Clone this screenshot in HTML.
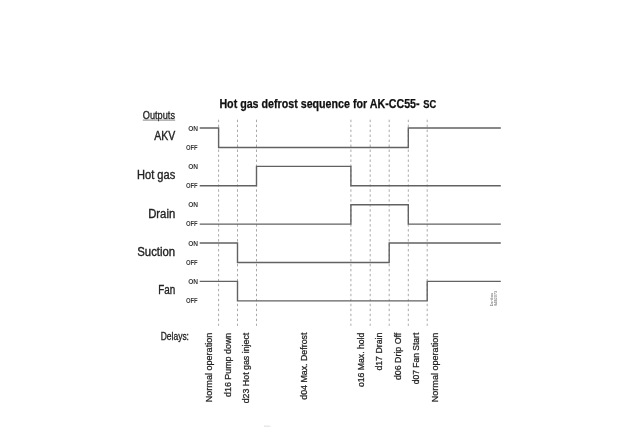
<!DOCTYPE html>
<html><head><meta charset="utf-8"><style>
html,body{margin:0;padding:0;background:#fff;width:640px;height:427px;overflow:hidden}
svg{display:block;will-change:transform;font-family:"Liberation Sans",sans-serif}
</style></head><body>
<svg width="640" height="427" viewBox="0 0 640 427">
<rect width="640" height="427" fill="#fff"/>
<line x1="218.6" y1="119.7" x2="218.6" y2="325.8" stroke="#a8a8a8" stroke-width="1" stroke-dasharray="2.4 2.575"/>
<line x1="237.5" y1="119.7" x2="237.5" y2="325.8" stroke="#a8a8a8" stroke-width="1" stroke-dasharray="2.4 2.575"/>
<line x1="256.5" y1="119.7" x2="256.5" y2="325.8" stroke="#a8a8a8" stroke-width="1" stroke-dasharray="2.4 2.575"/>
<line x1="350.9" y1="119.7" x2="350.9" y2="325.8" stroke="#a8a8a8" stroke-width="1" stroke-dasharray="2.4 2.575"/>
<line x1="370.2" y1="119.7" x2="370.2" y2="325.8" stroke="#a8a8a8" stroke-width="1" stroke-dasharray="2.4 2.575"/>
<line x1="389.2" y1="119.7" x2="389.2" y2="325.8" stroke="#a8a8a8" stroke-width="1" stroke-dasharray="2.4 2.575"/>
<line x1="408.3" y1="119.7" x2="408.3" y2="325.8" stroke="#a8a8a8" stroke-width="1" stroke-dasharray="2.4 2.575"/>
<line x1="427.2" y1="119.7" x2="427.2" y2="325.8" stroke="#a8a8a8" stroke-width="1" stroke-dasharray="2.4 2.575"/>
<path d="M199.7 128.00 H218.6 V147.45 H408.3 V128.00 H500.8" fill="none" stroke="#626262" stroke-width="1.4" stroke-linejoin="miter"/>
<text x="188.2" y="130.60" font-size="6.7" font-weight="bold" textLength="9.9" lengthAdjust="spacingAndGlyphs" fill="#3a3a3a">ON</text>
<text x="185.9" y="149.65" font-size="6.7" font-weight="bold" textLength="11.8" lengthAdjust="spacingAndGlyphs" fill="#3a3a3a">OFF</text>
<text x="154.20" y="140.0" font-size="12" textLength="21.0" lengthAdjust="spacingAndGlyphs" fill="#222" stroke="#222" stroke-width="0.35">AKV</text>
<path d="M199.7 185.80 H256.5 V166.35 H350.9 V185.80 H500.8" fill="none" stroke="#626262" stroke-width="1.4" stroke-linejoin="miter"/>
<text x="188.2" y="168.95" font-size="6.7" font-weight="bold" textLength="9.9" lengthAdjust="spacingAndGlyphs" fill="#3a3a3a">ON</text>
<text x="185.9" y="188.00" font-size="6.7" font-weight="bold" textLength="11.8" lengthAdjust="spacingAndGlyphs" fill="#3a3a3a">OFF</text>
<text x="137.00" y="179.0" font-size="12" textLength="38.2" lengthAdjust="spacingAndGlyphs" fill="#222" stroke="#222" stroke-width="0.35">Hot gas</text>
<path d="M199.7 224.15 H350.9 V204.70 H408.3 V224.15 H500.8" fill="none" stroke="#626262" stroke-width="1.4" stroke-linejoin="miter"/>
<text x="188.2" y="207.30" font-size="6.7" font-weight="bold" textLength="9.9" lengthAdjust="spacingAndGlyphs" fill="#3a3a3a">ON</text>
<text x="185.9" y="226.35" font-size="6.7" font-weight="bold" textLength="11.8" lengthAdjust="spacingAndGlyphs" fill="#3a3a3a">OFF</text>
<text x="148.20" y="217.9" font-size="12" textLength="27.0" lengthAdjust="spacingAndGlyphs" fill="#222" stroke="#222" stroke-width="0.35">Drain</text>
<path d="M199.7 243.05 H237.5 V262.50 H389.2 V243.05 H500.8" fill="none" stroke="#626262" stroke-width="1.4" stroke-linejoin="miter"/>
<text x="188.2" y="245.65" font-size="6.7" font-weight="bold" textLength="9.9" lengthAdjust="spacingAndGlyphs" fill="#3a3a3a">ON</text>
<text x="185.9" y="264.70" font-size="6.7" font-weight="bold" textLength="11.8" lengthAdjust="spacingAndGlyphs" fill="#3a3a3a">OFF</text>
<text x="137.30" y="255.7" font-size="12" textLength="37.9" lengthAdjust="spacingAndGlyphs" fill="#222" stroke="#222" stroke-width="0.35">Suction</text>
<path d="M199.7 281.40 H237.5 V300.85 H427.2 V281.40 H500.8" fill="none" stroke="#626262" stroke-width="1.4" stroke-linejoin="miter"/>
<text x="188.2" y="284.00" font-size="6.7" font-weight="bold" textLength="9.9" lengthAdjust="spacingAndGlyphs" fill="#3a3a3a">ON</text>
<text x="185.9" y="303.05" font-size="6.7" font-weight="bold" textLength="11.8" lengthAdjust="spacingAndGlyphs" fill="#3a3a3a">OFF</text>
<text x="158.20" y="294.0" font-size="12" textLength="17.0" lengthAdjust="spacingAndGlyphs" fill="#222" stroke="#222" stroke-width="0.35">Fan</text>
<text x="219.4" y="108.4" font-size="11.9" font-weight="bold" textLength="200.2" lengthAdjust="spacingAndGlyphs" fill="#111" stroke="#111" stroke-width="0.25">Hot gas defrost sequence for AK-CC55-</text>
<text x="423.3" y="108.4" font-size="11.7" font-weight="bold" textLength="13" lengthAdjust="spacingAndGlyphs" fill="#111" stroke="#111" stroke-width="0.25">SC</text>
<text x="142.8" y="118.6" font-size="10.6" textLength="32.2" lengthAdjust="spacingAndGlyphs" fill="#222" stroke="#222" stroke-width="0.3">Outputs</text>
<line x1="142.8" y1="120.1" x2="175.2" y2="120.1" stroke="#666" stroke-width="0.8"/>
<text x="160.7" y="339.6" font-size="10" textLength="28.3" lengthAdjust="spacingAndGlyphs" fill="#222" stroke="#222" stroke-width="0.3">Delays:</text>
<text transform="translate(211.6 402.3) rotate(-90)" x="0" y="0" font-size="9" textLength="69.6" lengthAdjust="spacingAndGlyphs" fill="#222" stroke="#222" stroke-width="0.25">Normal operation</text>
<text transform="translate(230.5 397.0) rotate(-90)" x="0" y="0" font-size="9" textLength="64.3" lengthAdjust="spacingAndGlyphs" fill="#222" stroke="#222" stroke-width="0.25">d16 Pump down</text>
<text transform="translate(249.4 403.3) rotate(-90)" x="0" y="0" font-size="9" textLength="70.6" lengthAdjust="spacingAndGlyphs" fill="#222" stroke="#222" stroke-width="0.25">d23 Hot gas inject</text>
<text transform="translate(307.0 399.7) rotate(-90)" x="0" y="0" font-size="9" textLength="67.1" lengthAdjust="spacingAndGlyphs" fill="#222" stroke="#222" stroke-width="0.25">d04 Max. Defrost</text>
<text transform="translate(363.8 387.0) rotate(-90)" x="0" y="0" font-size="9" textLength="54.3" lengthAdjust="spacingAndGlyphs" fill="#222" stroke="#222" stroke-width="0.25">o16 Max. hold</text>
<text transform="translate(382.0 370.6) rotate(-90)" x="0" y="0" font-size="9" textLength="37.9" lengthAdjust="spacingAndGlyphs" fill="#222" stroke="#222" stroke-width="0.25">d17 Drain</text>
<text transform="translate(401.2 380.1) rotate(-90)" x="0" y="0" font-size="9" textLength="47.4" lengthAdjust="spacingAndGlyphs" fill="#222" stroke="#222" stroke-width="0.25">d06 Drip Off</text>
<text transform="translate(419.3 384.3) rotate(-90)" x="0" y="0" font-size="9" textLength="51.6" lengthAdjust="spacingAndGlyphs" fill="#222" stroke="#222" stroke-width="0.25">d07 Fan Start</text>
<text transform="translate(438.2 402.3) rotate(-90)" x="0" y="0" font-size="9" textLength="69.6" lengthAdjust="spacingAndGlyphs" fill="#222" stroke="#222" stroke-width="0.25">Normal operation</text>
<text transform="translate(492.6 306.3) rotate(-90)" font-size="3.4" textLength="13.5" lengthAdjust="spacingAndGlyphs" fill="#666">Danfoss</text>
<text transform="translate(497.2 305.7) rotate(-90)" font-size="3.6" textLength="14.7" lengthAdjust="spacingAndGlyphs" fill="#555">84B2973</text>
<rect x="264" y="425.5" width="6.3" height="1.5" fill="#e8e8e8"/>
</svg>
</body></html>
